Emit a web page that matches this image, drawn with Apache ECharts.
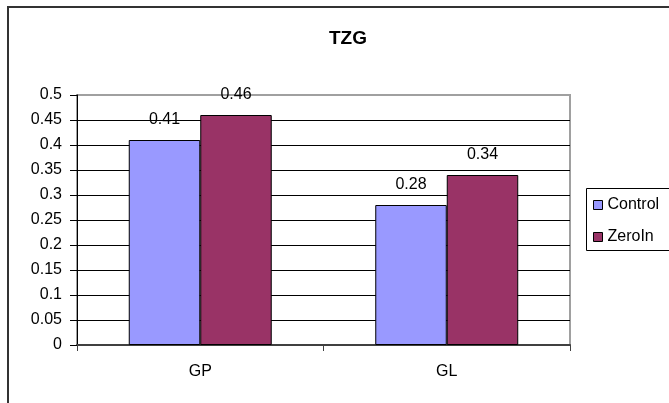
<!DOCTYPE html>
<html>
<head>
<meta charset="utf-8">
<title>TZG</title>
<script src="https://cdn.jsdelivr.net/npm/echarts@6/dist/echarts.min.js"></script>
<style>
  html, body { margin: 0; padding: 0; background: #fff; }
  #chart { width: 669px; height: 403px; }
</style>
</head>
<body>
<div id="chart"></div>
<script>
// 資料
const categories = ["GP", "GL"];
const controlValues = [0.41, 0.28];
const zeroInValues = [0.46, 0.34];
const seriesNames = ["Control", "ZeroIn"];

const FONT = '"Liberation Sans", Arial, sans-serif';

const chart = echarts.init(document.getElementById("chart"));

// 格線顏色：最上面一條是灰色的圖框
const gridColors = Array.from({ length: 11 }, (_, i) => (i === 10 ? "#a0a0a0" : "#000"));

const barLabel = {
  show: true,
  position: "top",
  distance: 12,
  color: "#000",
  fontSize: 16,
  fontFamily: FONT,
};

const option = {
  backgroundColor: "#fff",
  animation: false,
  title: {
    text: "TZG",
    left: 343,
    top: 24,
    textAlign: "center",
    textStyle: { fontSize: 19, fontWeight: "bold", color: "#000", fontFamily: FONT },
  },
  legend: {
    orient: "vertical",
    left: 586,
    top: 188,
    padding: [9, 5, 6, 7],
    itemGap: 16,
    itemWidth: 9,
    itemHeight: 9,
    icon: "rect",
    itemStyle: { borderColor: "#000", borderWidth: 1 },
    textStyle: { fontSize: 16, lineHeight: 16, color: "#000", fontFamily: FONT },
    data: seriesNames,
  },
  graphic: [
    // 外框
    {
      type: "rect",
      shape: { x: 8, y: 7, width: 700, height: 450 },
      style: { fill: "none", stroke: "#333", lineWidth: 2 },
      silent: true,
      z: 100,
    },
    // 圖例框（右邊超出畫面）
    {
      type: "rect",
      shape: { x: 586.5, y: 188.5, width: 120, height: 62 },
      style: { fill: "none", stroke: "#000", lineWidth: 1 },
      silent: true,
      z: 100,
    },
  ],
  grid: {
    left: 77,
    right: 99,
    top: 95,
    bottom: 58,
    show: true,
    borderColor: "#a0a0a0",
    borderWidth: 2,
    backgroundColor: "transparent",
  },
  xAxis: {
    type: "category",
    data: categories,
    axisLine: { lineStyle: { color: "#404040", width: 2 } },
    axisTick: { show: true, length: 6, lineStyle: { color: "#404040" } },
    axisLabel: { margin: 19, fontSize: 16, color: "#000", fontFamily: FONT },
    splitLine: { show: false },
  },
  yAxis: {
    type: "value",
    min: 0,
    max: 0.5,
    interval: 0.05,
    axisLine: { show: true, lineStyle: { color: "#000", width: 1 } },
    axisTick: { show: true, length: 7, lineStyle: { color: "#000" } },
    axisLabel: { margin: 15, fontSize: 16, color: "#000", fontFamily: FONT },
    splitLine: { show: true, lineStyle: { color: gridColors, width: 1 } },
  },
  series: [
    {
      name: seriesNames[0],
      type: "bar",
      data: controlValues,
      barGap: "0%",
      barCategoryGap: "42%",
      itemStyle: { color: "#9999ff", borderColor: "#000", borderWidth: 1 },
      label: barLabel,
    },
    {
      name: seriesNames[1],
      type: "bar",
      data: zeroInValues,
      barGap: "0%",
      barCategoryGap: "42%",
      itemStyle: { color: "#993366", borderColor: "#000", borderWidth: 1 },
      label: barLabel,
    },
  ],
};

chart.setOption(option);
</script>
</body>
</html>
